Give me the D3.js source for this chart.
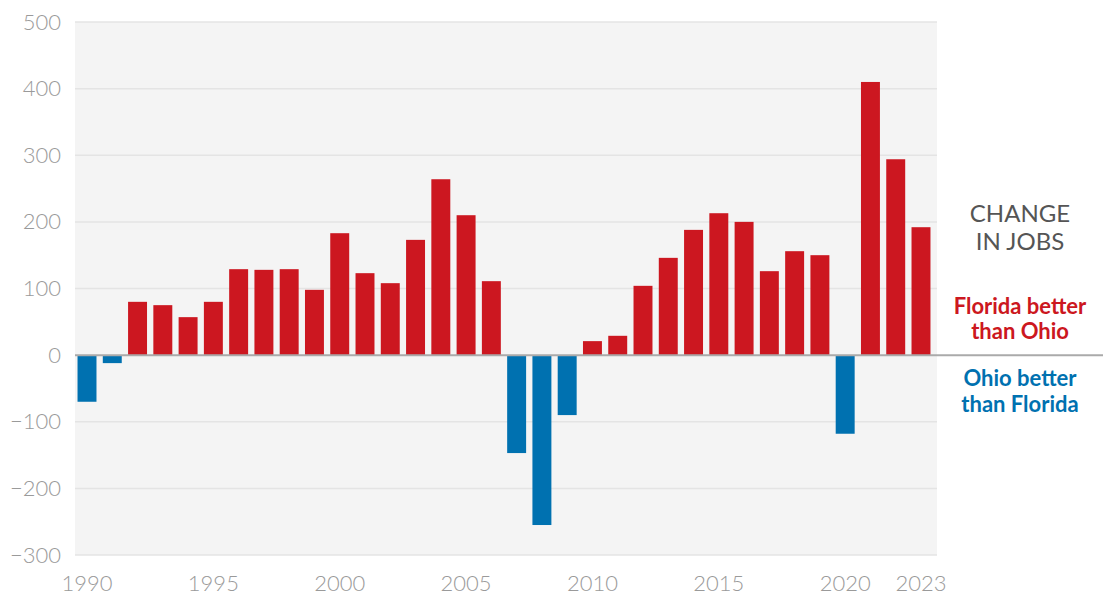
<!DOCTYPE html>
<html>
<head>
<meta charset="utf-8">
<script src="https://cdn.jsdelivr.net/npm/d3@7"></script>
<style>
  body { margin: 0; background: #fff; }
  svg text { font-family: Lato, "Open Sans", sans-serif; }
</style>
</head>
<body>
<svg id="chart" width="1107" height="596"></svg>
<script>
var years = d3.range(1990, 2024);
var jobChange = [-70, -12, 80, 75, 57, 80, 129, 128, 129, 98,
                 183, 123, 108, 173, 264, 210, 111, -147, -255, -90,
                 21, 29, 104, 146, 188, 213, 200, 126, 156, 150,
                 -118, 410, 294, 192];
var yTicks = [500, 400, 300, 200, 100, 0, -100, -200, -300];
var xTicks = [1990, 1995, 2000, 2005, 2010, 2015, 2020, 2023];

var data = years.map(function (y, i) { return { year: y, value: jobChange[i] }; });

var plotLeft = 75, plotRight = 937, plotTop = 22, plotBottom = 555;

var svg = d3.select("#chart");

var x = d3.scaleBand()
    .domain(years)
    .range([plotLeft, plotRight - 4])
    .paddingInner(0.25)
    .paddingOuter(0.1);

var y = d3.scaleLinear()
    .domain([-300, 500])
    .range([plotBottom, plotTop]);

// plot background
svg.append("rect")
    .attr("x", plotLeft).attr("y", plotTop)
    .attr("width", plotRight - plotLeft).attr("height", plotBottom - plotTop)
    .attr("fill", "#f4f4f4");

// gridlines
svg.append("g")
    .selectAll("line")
    .data(yTicks.filter(function (d) { return d !== 0; }))
    .enter().append("line")
    .attr("x1", plotLeft).attr("x2", plotRight)
    .attr("y1", function (d) { return y(d); })
    .attr("y2", function (d) { return y(d); })
    .attr("stroke", "#e4e4e4")
    .attr("stroke-width", 1.5);

// y axis labels
var yAxis = svg.append("g")
    .attr("transform", "translate(" + (plotLeft - 14) + ",0)")
    .call(d3.axisLeft(y).tickValues(yTicks).tickSize(0).tickPadding(0));
yAxis.select(".domain").remove();
yAxis.selectAll("text")
    .attr("fill", "#9a9a9a")
    .attr("font-size", 22)
    .attr("font-weight", 300);

// bars
svg.selectAll(".bar")
    .data(data)
    .enter().append("rect")
    .attr("class", "bar")
    .attr("fill", function (d) { return d.value >= 0 ? "#cc1720" : "#0071b0"; })
    .attr("x", function (d) { return x(d.year); })
    .attr("width", x.bandwidth())
    .attr("y", function (d) { return y(Math.max(0, d.value)); })
    .attr("height", function (d) { return Math.abs(y(d.value) - y(0)); });

// zero line
svg.append("line")
    .attr("x1", plotLeft).attr("x2", 1103)
    .attr("y1", y(0)).attr("y2", y(0))
    .attr("stroke", "#aaaaaa")
    .attr("stroke-width", 2);

// x axis labels
var xAxis = svg.append("g")
    .attr("transform", "translate(0," + (plotBottom + 20) + ")")
    .call(d3.axisBottom(x).tickValues(xTicks).tickSize(0).tickPadding(0));
xAxis.select(".domain").remove();
xAxis.selectAll("text")
    .attr("fill", "#9a9a9a")
    .attr("font-size", 22)
    .attr("font-weight", 300);

// legend text
var lx = 1020;
var legend = [
    { t: "CHANGE", y: 222, c: "#555", w: 400, s: 24 },
    { t: "IN JOBS", y: 250, c: "#555", w: 400, s: 24 },
    { t: "Florida better", y: 314, c: "#cc1720", w: 700, s: 22 },
    { t: "than Ohio", y: 339, c: "#cc1720", w: 700, s: 22 },
    { t: "Ohio better", y: 386, c: "#0071b0", w: 700, s: 22 },
    { t: "than Florida", y: 412, c: "#0071b0", w: 700, s: 22 }
];
svg.selectAll(".leg")
    .data(legend)
    .enter().append("text")
    .attr("class", "leg")
    .attr("x", lx)
    .attr("y", function (d) { return d.y; })
    .attr("text-anchor", "middle")
    .attr("fill", function (d) { return d.c; })
    .attr("font-weight", function (d) { return d.w; })
    .attr("font-size", function (d) { return d.s; })
    .text(function (d) { return d.t; });
</script>
</body>
</html>
